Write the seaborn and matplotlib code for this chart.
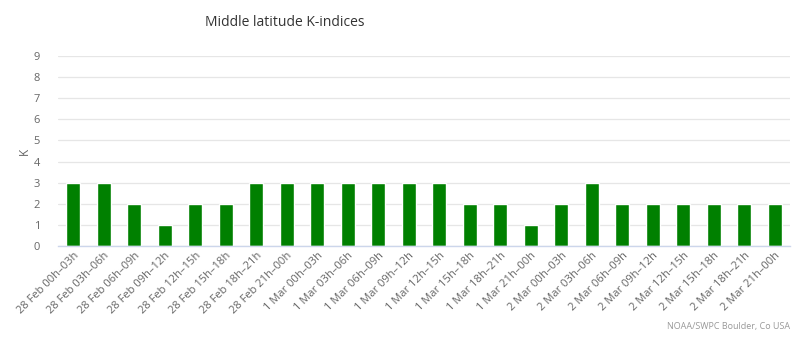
import matplotlib
matplotlib.use("Agg")
import matplotlib.pyplot as plt
import seaborn as sns
import pandas as pd

# Three-hour intervals and their K-index values
periods = [
    "28 Feb 00h–03h", "28 Feb 03h–06h", "28 Feb 06h–09h", "28 Feb 09h–12h",
    "28 Feb 12h–15h", "28 Feb 15h–18h", "28 Feb 18h–21h", "28 Feb 21h–00h",
    "1 Mar 00h–03h", "1 Mar 03h–06h", "1 Mar 06h–09h", "1 Mar 09h–12h",
    "1 Mar 12h–15h", "1 Mar 15h–18h", "1 Mar 18h–21h", "1 Mar 21h–00h",
    "2 Mar 00h–03h", "2 Mar 03h–06h", "2 Mar 06h–09h", "2 Mar 09h–12h",
    "2 Mar 12h–15h", "2 Mar 15h–18h", "2 Mar 18h–21h", "2 Mar 21h–00h",
]
k_values = [3, 3, 2, 1, 2, 2, 3, 3, 3, 3, 3, 3, 3, 2, 2, 1, 2, 3, 2, 2, 2, 2, 2, 2]
y_ticks = list(range(0, 10))

sns.set_theme(style="white")
plt.rcParams["font.family"] = ["Open Sans", "DejaVu Sans"]

df = pd.DataFrame({"period": periods, "K": k_values})

fig = plt.figure(figsize=(8.02, 3.48), dpi=100)
ax = fig.add_axes([58 / 802, (348 - 246) / 348, 732 / 802, 190 / 348])

sns.barplot(data=df, x="period", y="K", color="#008000", saturation=1,
            width=0.46, ax=ax, zorder=3)

ax.set_xlim(-0.5, len(periods) - 0.5)
ax.set_ylim(0, 9)
ax.set_yticks(y_ticks)
ax.yaxis.grid(True, color="#e6e6e6", linewidth=0.9, zorder=0)
ax.xaxis.grid(False)

for side in ("top", "right", "left"):
    ax.spines[side].set_visible(False)
ax.spines["bottom"].set_color("#ccd6eb")
ax.spines["bottom"].set_linewidth(1.0)
ax.spines["bottom"].set_zorder(4)

ax.tick_params(axis="y", length=0, labelsize=8, labelcolor="#666666", pad=13)
ax.tick_params(axis="x", length=0, labelsize=8, labelcolor="#666666", pad=3)
plt.setp(ax.get_xticklabels(), rotation=45, ha="right", rotation_mode="anchor")

ax.set_xlabel("")
ax.set_ylabel("K", fontsize=8.5, color="#666666", labelpad=2)

fig.text(285 / 802, 1 - 22 / 348, "Middle latitude K-indices",
         ha="center", va="center", fontsize=10, color="#333333")
fig.text(790 / 802, 1 - 327 / 348, "NOAA/SWPC Boulder, Co USA",
         ha="right", va="center", fontsize=6.5, color="#999999")

fig.savefig("out.png", dpi=100, facecolor="white")
